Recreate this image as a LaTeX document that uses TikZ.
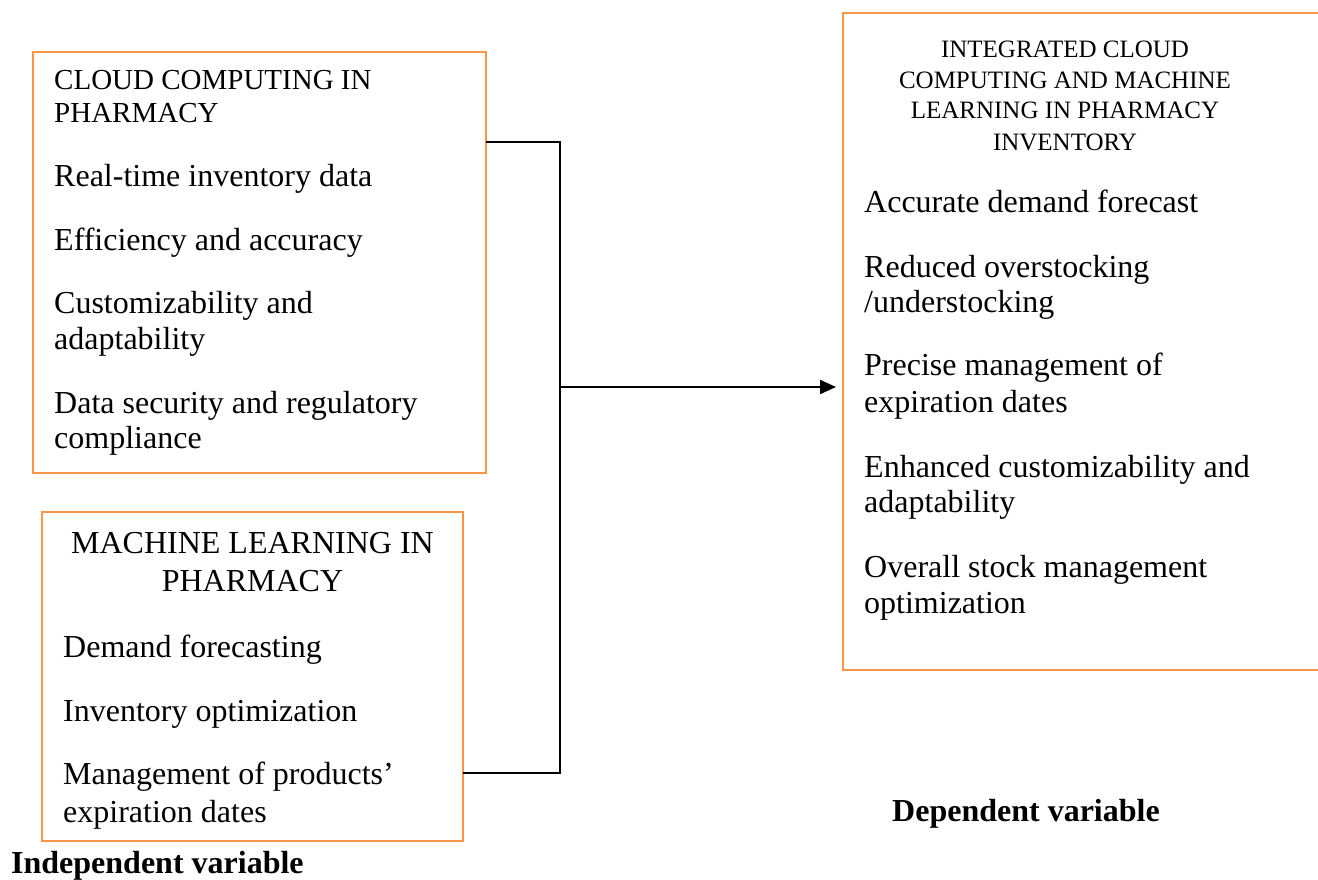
\documentclass[tikz,border=0pt]{standalone}
\usepackage{fontspec}
\setmainfont{Liberation Serif}
\usetikzlibrary{arrows.meta}
\definecolor{boxorange}{RGB}{247,150,70}
\tikzset{
  box/.style={draw=boxorange, line width=2.2pt, rectangle, inner sep=0pt, outer sep=0pt, anchor=north west},
  item/.style={anchor=base west, inner sep=0pt, font=\fontsize{32}{36}\selectfont},
  ctitle/.style={anchor=base, inner sep=0pt, font=\fontsize{32}{36}\selectfont},
  ltitle/.style={anchor=base west, inner sep=0pt, font=\fontsize{29}{33}\selectfont},
  ititle/.style={anchor=base, inner sep=0pt, font=\fontsize{25}{30}\selectfont},
  varlabel/.style={anchor=base west, inner sep=0pt, font=\fontsize{32}{36}\selectfont\bfseries},
  conn/.style={draw=black, line width=2.2pt},
}
\begin{document}
\begin{tikzpicture}[x=1pt,y=-1pt]
\useasboundingbox (0,0) rectangle (1318,880);
\clip (0,0) rectangle (1318,880);
\fill[white] (0,0) rectangle (1318,880);

% boxes
\node[box, minimum width=453pt, minimum height=421pt] (cc) at (33,52) {};
\node[box, minimum width=421pt, minimum height=329pt] (ml) at (42,512) {};
\node[box, minimum width=490pt, minimum height=657pt] (int) at (843,13) {};

% box 1 text
\node[ltitle] (cct1) at (54,90) {CLOUD COMPUTING IN};
\node[ltitle] (cct2) at (54,123) {PHARMACY};
\node[item] (cc1) at (54,186) {Real-time inventory data};
\node[item] (cc2) at (54,250) {Efficiency and accuracy};
\node[item] (cc3a) at (54,313) {Customizability and};
\node[item] (cc3b) at (54,349) {adaptability};
\node[item] (cc4a) at (54,413) {Data security and regulatory};
\node[item] (cc4b) at (54,448) {compliance};

% box 2 text
\node[ctitle] (mlt1) at (252.5,553) {MACHINE LEARNING IN};
\node[ctitle] (mlt2) at (252.5,591) {PHARMACY};
\node[item] (ml1) at (63,657) {Demand forecasting};
\node[item] (ml2) at (63,721) {Inventory optimization};
\node[item] (ml3a) at (63,784) {Management of products’};
\node[item] (ml3b) at (63,822) {expiration dates};

% box 3 text
\node[ititle] (it1) at (1065,58) {INTEGRATED CLOUD};
\node[ititle] (it2) at (1065,89) {COMPUTING AND MACHINE};
\node[ititle] (it3) at (1065,119) {LEARNING IN PHARMACY};
\node[ititle] (it4) at (1065,151) {INVENTORY};
\node[item] (i1) at (864,212) {Accurate demand forecast};
\node[item] (i2a) at (864,277) {Reduced overstocking};
\node[item] (i2b) at (864,312) {/understocking};
\node[item] (i3a) at (864,375) {Precise management of};
\node[item] (i3b) at (864,412) {expiration dates};
\node[item] (i4a) at (864,477) {Enhanced customizability and};
\node[item] (i4b) at (864,512) {adaptability};
\node[item] (i5a) at (864,577) {Overall stock management};
\node[item] (i5b) at (864,613) {optimization};

% variable labels
\node[varlabel] (indep) at (11,873) {Independent variable};
\node[varlabel] (dep) at (892,821) {Dependent variable};

% connectors
\coordinate (j1) at (560,142);
\coordinate (j2) at (560,773);
\coordinate (jm) at (560,387);
\coordinate (tip) at (836,387);
\draw[conn] (cc.east |- j1) -- (j1) -- (j2) -- (ml.east |- j2);
\draw[conn, -{Triangle[length=16pt,width=14pt]}] (jm) -- (tip);
\end{tikzpicture}
\end{document}
